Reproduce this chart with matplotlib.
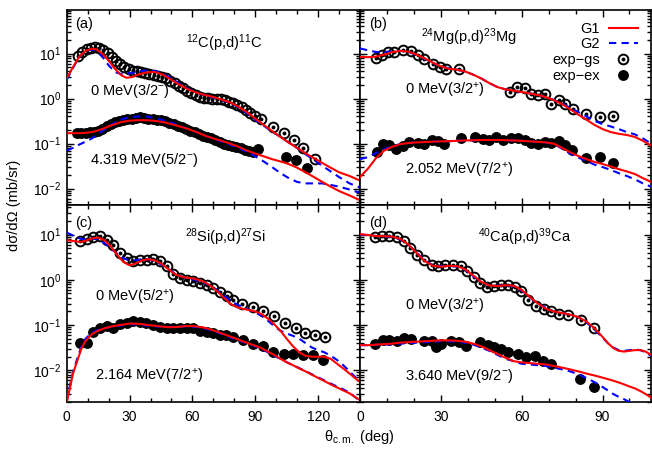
import numpy as np
import matplotlib
matplotlib.use("Agg")
import matplotlib.pyplot as plt
from matplotlib.lines import Line2D
from matplotlib.legend_handler import HandlerTuple
from matplotlib.ticker import MultipleLocator, LogLocator, NullFormatter

plt.rcParams['font.family'] = ['Liberation Sans', 'DejaVu Sans']
plt.rcParams['mathtext.fontset'] = 'custom'
plt.rcParams['mathtext.rm'] = 'Liberation Sans'
plt.rcParams['mathtext.it'] = 'Liberation Sans:italic'
plt.rcParams['font.size'] = 10

# ---------------- (a) 12C(p,d)11C ----------------
a_gs_ang = [5.5, 7.5, 9.5, 11.5, 13.5, 15.5, 17.5, 19.5, 21.5, 23.5, 25.5, 27.5, 29.5, 31.5, 33.5,
            35.5, 37.5, 39.5, 41.5, 43.5, 45.5, 47.5, 49.5, 51.5, 53.5, 55.5, 57.5, 59.5, 61.5, 63.5,
            65.5, 67.5, 69.5, 71.5, 73.5, 75.5, 77.5, 79.5, 81.5, 83.5, 85.5, 87.5, 90, 92.5, 98.5,
            103.5, 108.5, 113, 118.5]
a_gs_xs = [9.0, 11, 12.5, 13.5, 14, 13.5, 12, 10.5, 8.5, 7.0, 5.8, 5.0, 4.5, 4.2, 4.0,
           3.8, 3.7, 3.6, 3.4, 3.2, 3.0, 2.8, 2.5, 2.2, 1.9, 1.7, 1.5, 1.35, 1.2, 1.1,
           1.05, 1.02, 1.0, 1.0, 0.98, 0.92, 0.85, 0.78, 0.72, 0.65, 0.55, 0.47, 0.40, 0.35, 0.23,
           0.17, 0.12, 0.08, 0.045]
a_ex_ang = [5, 7, 9, 11, 13, 15, 17, 19, 21, 23, 25, 27, 29, 31, 33, 35, 37, 39, 41, 43, 45, 47,
            49, 51, 53, 55, 57, 59, 61, 63, 65, 67, 69, 71, 73, 75, 77, 79, 81, 83, 85, 87, 89,
            91.5, 104.5, 109.5, 114.5]
a_ex_xs = [0.17, 0.17, 0.17, 0.18, 0.18, 0.19, 0.21, 0.24, 0.27, 0.30, 0.32, 0.34, 0.35, 0.36,
           0.37, 0.38, 0.37, 0.36, 0.35, 0.34, 0.33, 0.31, 0.29, 0.27, 0.25, 0.23, 0.21, 0.19,
           0.18, 0.16, 0.15, 0.14, 0.13, 0.12, 0.11, 0.10, 0.095, 0.088, 0.082, 0.078, 0.072,
           0.068, 0.065, 0.074, 0.05, 0.043, 0.029]
a_th_ang = [0, 3, 6, 9, 12, 14, 17, 20, 23, 26, 28.5, 31, 34, 38, 42, 46, 50, 54, 58, 62, 66, 70,
            74, 78, 82, 86, 90, 94, 98, 102, 106, 110, 114, 118, 122, 126, 130, 135, 140]
a_g1_gs = [2.8, 5.0, 8.5, 11.5, 12.8, 12.5, 10, 7, 4.6, 3.3, 2.9, 3.0, 3.4, 3.8, 3.9, 3.4, 2.6,
           2.0, 1.6, 1.35, 1.2, 1.08, 0.95, 0.82, 0.66, 0.50, 0.36, 0.26, 0.19, 0.14, 0.105,
           0.08, 0.061, 0.047, 0.037, 0.029, 0.023, 0.019, 0.015]
a_g2_gs = [2.6, 4.8, 8.5, 11.5, 12.3, 11.5, 8.5, 5.5, 3.9, 3.5, 3.55, 3.7, 4.0, 4.2, 4.1, 3.6,
           2.8, 2.1, 1.65, 1.35, 1.18, 1.05, 0.93, 0.80, 0.64, 0.47, 0.34, 0.25, 0.185, 0.14,
           0.105, 0.079, 0.058, 0.043, 0.032, 0.024, 0.018, 0.013, 0.0105]
a_g1_ex = [0.17, 0.17, 0.17, 0.173, 0.18, 0.19, 0.21, 0.24, 0.27, 0.30, 0.315, 0.325, 0.33, 0.33,
           0.32, 0.30, 0.27, 0.24, 0.21, 0.18, 0.15, 0.13, 0.115, 0.10, 0.085, 0.07, 0.06,
           0.052, 0.045, 0.04, 0.035, 0.029, 0.023, 0.018, 0.014, 0.011, 0.0088, 0.007, 0.0055]
a_g2_ex = [0.07, 0.08, 0.095, 0.11, 0.13, 0.15, 0.19, 0.24, 0.29, 0.34, 0.37, 0.39, 0.40, 0.40,
           0.37, 0.33, 0.29, 0.25, 0.21, 0.18, 0.15, 0.13, 0.11, 0.095, 0.08, 0.065, 0.052,
           0.04, 0.03, 0.022, 0.017, 0.014, 0.013, 0.013, 0.013, 0.012, 0.011, 0.0095, 0.008]

# ---------------- (b) 24Mg(p,d)23Mg ----------------
b_gs_ang = [5.9, 8.3, 10.3, 12.7, 15.8, 19.0, 21.4, 23.9, 27.0, 29.5, 31.9, 36.9, 55.5, 58.3,
            61.1, 63.5, 66.0, 68.5, 71.0, 73.7, 76.2, 79.0, 84.0, 89.0, 93.9]
b_gs_xs = [8.0, 9.2, 10.9, 10.9, 11.9, 11.3, 9.2, 7.7, 6.0, 5.0, 4.6, 4.5, 1.41, 1.82,
           1.73, 1.29, 1.18, 1.29, 0.77, 0.92, 0.77, 0.60, 0.46, 0.38, 0.42]
b_ex_ang = [6.3, 8.4, 10.9, 13.4, 15.8, 18.3, 21.4, 23.9, 26.6, 29.1, 31.3, 37.5, 42.7, 45.5,
            48.0, 50.5, 53.0, 56.1, 58.6, 61.1, 63.5, 66.0, 68.5, 71.0, 73.7, 76.2, 78.7, 84.0,
            89.0, 93.9]
b_ex_xs = [0.066, 0.097, 0.091, 0.074, 0.088, 0.11, 0.105, 0.10, 0.117, 0.112, 0.10, 0.13, 0.14,
           0.125, 0.12, 0.14, 0.12, 0.13, 0.13, 0.12, 0.105, 0.10, 0.11, 0.105, 0.112, 0.091,
           0.071, 0.048, 0.05, 0.037]
b_th_ang = [0, 3, 6, 9, 12, 15, 18, 21, 24, 27, 30, 33, 36, 39, 42, 45, 48, 51, 54, 57, 60, 63,
            66, 69, 72, 75, 78, 81, 84, 87, 90, 93, 96, 99, 102, 105, 108]
b_g1_gs = [8.4, 8.3, 8.6, 9.5, 10.8, 11.5, 11, 9.5, 7.8, 6.3, 5.2, 4.6, 4.4, 4.0, 3.4, 2.8, 2.2,
           1.8, 1.6, 1.5, 1.4, 1.3, 1.2, 1.08, 0.92, 0.75, 0.58, 0.44, 0.34, 0.26, 0.21, 0.18,
           0.165, 0.155, 0.14, 0.115, 0.09]
b_g2_gs = [13, 11.8, 10.8, 10.8, 11.2, 11.5, 10.8, 9.3, 7.6, 6.2, 5.2, 4.7, 4.4, 4.0, 3.4, 2.8,
           2.2, 1.8, 1.6, 1.5, 1.4, 1.3, 1.2, 1.08, 0.93, 0.78, 0.62, 0.50, 0.40, 0.32, 0.27,
           0.24, 0.21, 0.18, 0.16, 0.13, 0.10]
b_g1_ex = [0.018, 0.028, 0.048, 0.07, 0.085, 0.097, 0.103, 0.106, 0.108, 0.11, 0.112, 0.113,
           0.115, 0.117, 0.118, 0.12, 0.12, 0.12, 0.119, 0.117, 0.115, 0.112, 0.109, 0.106,
           0.099, 0.08, 0.064, 0.053, 0.045, 0.039, 0.035, 0.031, 0.027, 0.024, 0.021, 0.017,
           0.014]
b_g2_ex = [0.045, 0.05, 0.062, 0.075, 0.088, 0.097, 0.103, 0.106, 0.108, 0.11, 0.112, 0.113,
           0.115, 0.117, 0.118, 0.12, 0.12, 0.12, 0.119, 0.117, 0.115, 0.112, 0.109, 0.105,
           0.097, 0.077, 0.06, 0.049, 0.041, 0.034, 0.03, 0.026, 0.022, 0.019, 0.016, 0.013,
           0.011]

# ---------------- (c) 28Si(p,d)27Si ----------------
c_gs_ang = [6.3, 9.5, 12.7, 15.9, 19.0, 22.2, 25.4, 28.6, 31.8, 35.0, 38.2, 41.3, 44.5, 47.7,
            50.9, 54.0, 57.3, 60.4, 63.6, 66.8, 70.0, 73.2, 76.4, 79.5, 83.5, 88.8, 93.8, 99.0,
            104.0, 109.5, 113.7, 118.5, 123.3]
c_gs_xs = [7.1, 8.0, 8.7, 9.5, 7.7, 6.0, 3.9, 3.0, 2.6, 2.8, 2.8, 2.9, 2.6, 2.0, 1.36, 1.09,
           1.0, 0.96, 0.85, 0.77, 0.66, 0.55, 0.43, 0.36, 0.30, 0.25, 0.20, 0.155, 0.113, 0.085,
           0.066, 0.060, 0.055]
c_ex_ang = [6.3, 9.5, 12.7, 15.9, 19.0, 22.0, 25.4, 28.6, 31.8, 35.0, 38.0, 41.3, 44.5, 47.7,
            50.9, 54.0, 57.3, 60.4, 63.6, 66.8, 70.0, 73.0, 76.0, 79.5, 84.0, 88.8, 93.5, 98.5,
            103.5, 108.0, 112.7, 117.6, 122.4]
c_ex_xs = [0.041, 0.041, 0.071, 0.085, 0.096, 0.085, 0.105, 0.11, 0.125, 0.118, 0.11, 0.10,
           0.091, 0.085, 0.088, 0.085, 0.088, 0.085, 0.074, 0.071, 0.066, 0.060, 0.060, 0.055,
           0.048, 0.038, 0.035, 0.026, 0.023, 0.023, 0.022, 0.022, 0.017]
c_th_ang = [0, 1.5, 3, 5, 7, 9, 12, 15, 18, 21, 24, 27, 30, 33, 36, 39, 42, 45, 48, 51, 54, 57,
            60, 63, 66, 69, 72, 75, 78, 81, 84, 87, 90, 93, 96, 99, 102, 105, 108, 111, 114, 117,
            120, 123, 126, 129, 132, 135, 140]
c_g1_gs = [7.5, 7.4, 7.2, 7.0, 6.9, 7.3, 8.2, 8.6, 7.5, 5.5, 3.6, 2.5, 2.1, 2.3, 2.7, 2.85,
           2.7, 2.3, 1.8, 1.4, 1.2, 1.12, 1.08, 1.0, 0.88, 0.72, 0.55, 0.40, 0.30, 0.25, 0.23,
           0.215, 0.20, 0.175, 0.14, 0.105, 0.075, 0.05, 0.034, 0.025, 0.021, 0.02, 0.02, 0.02,
           0.018, 0.014, 0.011, 0.0085, 0.0055]
c_g2_gs = [11, 10.3, 9.5, 8.6, 8.0, 7.8, 8.2, 7.8, 6.5, 5.0, 3.8, 3.0, 2.7, 2.7, 2.85, 2.85,
           2.6, 2.2, 1.8, 1.45, 1.22, 1.1, 1.03, 0.95, 0.85, 0.72, 0.58, 0.45, 0.35, 0.29, 0.25,
           0.22, 0.19, 0.16, 0.125, 0.095, 0.075, 0.065, 0.058, 0.05, 0.04, 0.032, 0.028, 0.025,
           0.021, 0.017, 0.013, 0.0095, 0.0055]
c_g1_ex = [0.002, 0.004, 0.0085, 0.016, 0.03, 0.045, 0.063, 0.075, 0.085, 0.092, 0.098, 0.103,
           0.108, 0.108, 0.105, 0.1, 0.097, 0.093, 0.09, 0.09, 0.092, 0.095, 0.095, 0.092,
           0.087, 0.079, 0.071, 0.063, 0.056, 0.05, 0.044, 0.039, 0.035, 0.031, 0.026, 0.022,
           0.018, 0.015, 0.013, 0.011, 0.0095, 0.008, 0.0068, 0.0058, 0.0049, 0.0042, 0.0036,
           0.0031, 0.0022]
c_g2_ex = [0.0021, 0.0045, 0.009, 0.018, 0.033, 0.05, 0.068, 0.078, 0.086, 0.091, 0.096, 0.1,
           0.105, 0.104, 0.101, 0.097, 0.094, 0.092, 0.091, 0.092, 0.093, 0.093, 0.092, 0.089,
           0.084, 0.077, 0.069, 0.061, 0.054, 0.048, 0.043, 0.038, 0.034, 0.03, 0.025, 0.021,
           0.018, 0.0152, 0.013, 0.0112, 0.0096, 0.0082, 0.007, 0.006, 0.0051, 0.0044, 0.0038,
           0.0032, 0.0021]

# ---------------- (d) 40Ca(p,d)39Ca ----------------
d_gs_ang = [5.6, 8.0, 10.9, 13.7, 16.5, 18.7, 21.2, 23.9, 26.6, 29.1, 31.6, 34.4, 37.3, 39.8,
            42.2, 44.7, 47.2, 49.7, 52.4, 55.1, 57.6, 59.8, 62.3, 65.4, 68.3, 71.0, 74.0, 77.2,
            82.1, 86.8]
d_gs_xs = [8.9, 9.5, 9.5, 8.9, 7.1, 5.0, 3.6, 2.8, 2.15, 2.0, 2.15, 2.15, 2.0, 1.54, 1.18,
           0.85, 0.71, 0.73, 0.77, 0.77, 0.69, 0.58, 0.36, 0.26, 0.23, 0.20, 0.18, 0.17, 0.13,
           0.085]
d_ex_ang = [5.6, 8.4, 10.9, 13.7, 16.2, 19.0, 23.9, 26.6, 28.3, 30.1, 33.8, 36.9, 39.4, 44.4,
            47.4, 49.9, 52.4, 54.9, 58.6, 61.7, 64.8, 67.9, 70.7, 81.5, 86.8]
d_ex_xs = [0.038, 0.047, 0.048, 0.044, 0.052, 0.050, 0.044, 0.044, 0.033, 0.038, 0.044, 0.043,
           0.034, 0.043, 0.036, 0.033, 0.030, 0.026, 0.023, 0.020, 0.021, 0.016, 0.014, 0.0064,
           0.0042]
d_th_ang = [0, 3, 6, 9, 12, 15, 18, 21, 24, 27, 30, 33, 36, 39, 42, 45, 48, 51, 54, 57, 60, 63,
            66, 69, 72, 75, 78, 81, 84, 87, 90, 92, 94, 96, 98, 100, 102, 104, 106, 108]
d_g1_gs = [10.2, 9.8, 9.3, 9.2, 9.0, 8.0, 6.0, 3.9, 2.6, 2.05, 1.95, 2.05, 2.0, 1.7, 1.25, 0.9,
           0.75, 0.73, 0.76, 0.74, 0.6, 0.42, 0.3, 0.23, 0.2, 0.185, 0.17, 0.15, 0.12, 0.085,
           0.055, 0.04, 0.031, 0.027, 0.026, 0.027, 0.028, 0.028, 0.026, 0.022]
d_g2_gs = [10.0, 9.7, 9.3, 9.1, 8.8, 7.8, 5.9, 4.0, 2.7, 2.1, 2.0, 2.05, 1.95, 1.65, 1.2, 0.9,
           0.76, 0.74, 0.76, 0.72, 0.58, 0.41, 0.3, 0.24, 0.2, 0.185, 0.17, 0.15, 0.115, 0.08,
           0.053, 0.04, 0.032, 0.028, 0.027, 0.028, 0.029, 0.028, 0.025, 0.021]
d_g1_ex = [0.036, 0.036, 0.037, 0.038, 0.039, 0.041, 0.042, 0.043, 0.044, 0.045, 0.046, 0.046,
           0.045, 0.043, 0.039, 0.034, 0.028, 0.023, 0.019, 0.016, 0.015, 0.0145, 0.014, 0.0135,
           0.0125, 0.0115, 0.0105, 0.0095, 0.0085, 0.0077, 0.0069, 0.0064, 0.0059, 0.0054,
           0.0049, 0.0044, 0.004, 0.0035, 0.003, 0.0025]
d_g2_ex = [0.036, 0.036, 0.037, 0.037, 0.038, 0.039, 0.040, 0.041, 0.042, 0.043, 0.044, 0.044,
           0.043, 0.041, 0.037, 0.032, 0.027, 0.022, 0.018, 0.016, 0.014, 0.0135, 0.013, 0.0125,
           0.0115, 0.0105, 0.0095, 0.0082, 0.0068, 0.0055, 0.0043, 0.0036, 0.003, 0.0026,
           0.0023, 0.002, 0.0018, 0.0016, 0.0015, 0.0014]

panel_tags = ['(a)', '(b)', '(c)', '(d)']
reactions = [r'$^{12}$C(p,d)$^{11}$C', r'$^{24}$Mg(p,d)$^{23}$Mg',
             r'$^{28}$Si(p,d)$^{27}$Si', r'$^{40}$Ca(p,d)$^{39}$Ca']
gs_labels = [r'0 MeV(3/2$^{-}$)', r'0 MeV(3/2$^{+}$)', r'0 MeV(5/2$^{+}$)', r'0 MeV(3/2$^{+}$)']
ex_labels = [r'4.319 MeV(5/2$^{-}$)', r'2.052 MeV(7/2$^{+}$)',
             r'2.164 MeV(7/2$^{+}$)', r'3.640 MeV(9/2$^{-}$)']

fig = plt.figure(figsize=(6.52, 4.49), dpi=100)
xl, xm, xr = 0.1023, 0.5522, 0.9985
yb, ym, yt = 0.1047, 0.5434, 0.9777
ax_a = fig.add_axes([xl, ym, xm - xl, yt - ym])
ax_b = fig.add_axes([xm, ym, xr - xm, yt - ym])
ax_c = fig.add_axes([xl, yb, xm - xl, ym - yb])
ax_d = fig.add_axes([xm, yb, xr - xm, ym - yb])
axes = [ax_a, ax_b, ax_c, ax_d]

panels = [
    (a_gs_ang, a_gs_xs, a_ex_ang, a_ex_xs, a_th_ang, a_g1_gs, a_g2_gs, a_g1_ex, a_g2_ex),
    (b_gs_ang, b_gs_xs, b_ex_ang, b_ex_xs, b_th_ang, b_g1_gs, b_g2_gs, b_g1_ex, b_g2_ex),
    (c_gs_ang, c_gs_xs, c_ex_ang, c_ex_xs, c_th_ang, c_g1_gs, c_g2_gs, c_g1_ex, c_g2_ex),
    (d_gs_ang, d_gs_xs, d_ex_ang, d_ex_xs, d_th_ang, d_g1_gs, d_g2_gs, d_g1_ex, d_g2_ex),
]

red = '#ff0000'
blue = '#0000ff'
circ_kw = dict(ls='none', marker='o', ms=7.0, mfc='none', mec='k', mew=1.4, zorder=3)
dot_kw = dict(ls='none', marker='o', ms=1.8, mfc='k', mec='k', zorder=3)
fill_kw = dict(ls='none', marker='o', ms=6.8, mfc='k', mec='k', zorder=3)

for i, ax in enumerate(axes):
    gs_ang, gs_xs, ex_ang, ex_xs, th_ang, g1_gs, g2_gs, g1_ex, g2_ex = panels[i]
    ax.plot(gs_ang, gs_xs, **circ_kw)
    ax.plot(gs_ang, gs_xs, **dot_kw)
    ax.plot(ex_ang, ex_xs, **fill_kw)
    ax.plot(th_ang, g2_gs, color=blue, lw=1.5, dashes=(3.5, 2.5), zorder=4)
    ax.plot(th_ang, g2_ex, color=blue, lw=1.5, dashes=(3.5, 2.5), zorder=4)
    ax.plot(th_ang, g1_gs, color=red, lw=1.5, zorder=5)
    ax.plot(th_ang, g1_ex, color=red, lw=1.5, zorder=5)

    ax.set_yscale('log')
    ax.yaxis.set_major_locator(LogLocator(base=10, numticks=20))
    ax.yaxis.set_minor_locator(LogLocator(base=10, subs=np.arange(2, 10), numticks=50))
    ax.yaxis.set_minor_formatter(NullFormatter())
    ax.xaxis.set_major_locator(MultipleLocator(30))
    ax.xaxis.set_minor_locator(MultipleLocator(10))
    ax.tick_params(which='both', direction='in', top=True, right=True, width=1.0)
    ax.tick_params(which='major', length=5, labelsize=10)
    ax.tick_params(which='minor', length=3)
    for sp in ax.spines.values():
        sp.set_linewidth(1.2)

ax_a.set_xlim(0, 140)
ax_c.set_xlim(0, 140)
ax_b.set_xlim(0, 108)
ax_d.set_xlim(0, 108)
ax_a.set_ylim(0.0043, 93)
ax_b.set_ylim(0.0043, 93)
ax_c.set_ylim(0.002, 45)
ax_d.set_ylim(0.002, 45)

for ax in [ax_a, ax_b]:
    ax.tick_params(labelbottom=False)
for ax in [ax_b, ax_d]:
    ax.tick_params(labelleft=False)
ax_c.set_xticks([0, 30, 60, 90, 120])
ax_d.set_xticks([0, 30, 60, 90])
for ax in [ax_a, ax_c]:
    ax.tick_params(axis='y', pad=4)
    ax.tick_params(axis='x', pad=6)
ax_d.tick_params(axis='x', pad=6)

# text placements (axes fractions)
tag_pos = [(0.028, 0.928), (0.032, 0.928), (0.028, 0.909), (0.032, 0.909)]
rx_pos = [(0.536, 0.831), (0.373, 0.862), (0.540, 0.838), (0.566, 0.838)]
gs_pos = [(0.079, 0.585), (0.153, 0.585), (0.096, 0.528), (0.153, 0.487)]
ex_pos = [(0.079, 0.231), (0.153, 0.179), (0.096, 0.127), (0.153, 0.132)]
for i, ax in enumerate(axes):
    ax.text(*tag_pos[i], panel_tags[i], transform=ax.transAxes, ha='left', va='center', fontsize=10.5)
    ax.text(*rx_pos[i], reactions[i], transform=ax.transAxes, ha='center', va='center', fontsize=10.5)
    ax.text(*gs_pos[i], gs_labels[i], transform=ax.transAxes, ha='left', va='center', fontsize=10.5)
    ax.text(*ex_pos[i], ex_labels[i], transform=ax.transAxes, ha='left', va='center', fontsize=10.5)

# legend in panel (b)
h_g1 = Line2D([], [], color=red, lw=1.5)
h_g2 = Line2D([], [], color=blue, lw=1.5, dashes=(3.5, 2.5))
h_gs = (Line2D([], [], **circ_kw), Line2D([], [], **dot_kw))
h_ex = Line2D([], [], **fill_kw)
ax_b.legend([h_g1, h_g2, h_gs, h_ex], ['G1', 'G2', 'exp\u2212gs', 'exp\u2212ex'],
            handler_map={tuple: HandlerTuple(ndivide=1, pad=0)},
            loc='upper right', bbox_to_anchor=(0.985, 0.985), frameon=False,
            markerfirst=False, handlelength=2.0, handletextpad=0.6,
            labelspacing=0.12, fontsize=10.5, borderaxespad=0.2)

fig.text(0.022, 0.543, 'd\u03c3/d\u03a9 (mb/sr)', rotation=90, ha='center', va='center', fontsize=10.5)
fig.text(0.551, 0.027, '\u03b8' + r'$_{\rm c.m.}$ (deg)', ha='center', va='center', fontsize=10.5)

fig.savefig('out.png', dpi=100)
